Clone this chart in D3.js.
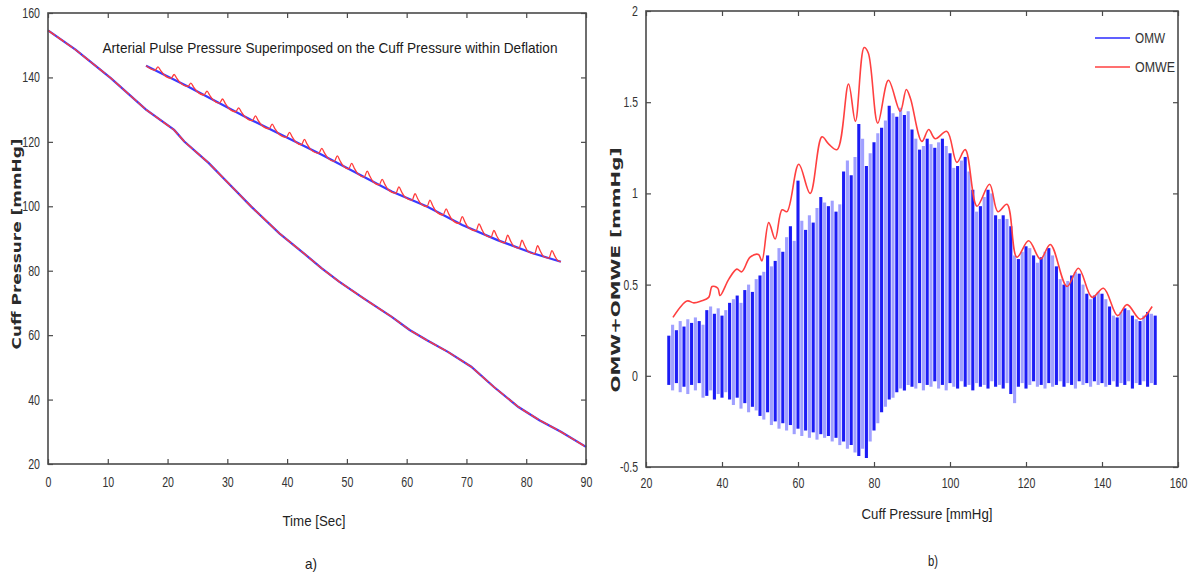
<!DOCTYPE html>
<html><head><meta charset="utf-8">
<script src="https://cdn.jsdelivr.net/npm/d3@7"></script>
<style>
html,body{margin:0;padding:0;background:#fff;}
svg{display:block;}
</style></head>
<body>
<svg id="chart" width="1191" height="573"></svg>
<script>
// ---------- Data: panel a) ----------
const mainTime = [0, 4.6, 10.5, 16.4, 21.1, 22.8, 26.9, 29.9, 34, 38.7, 42.8, 45.8, 48.7, 52.8, 57.5, 60.5, 63.4, 66.9, 70.8, 74.6, 78.7, 82.2, 85.8, 90];
const mainPressure = [154.6, 148.6, 139.8, 130, 123.7, 120.1, 113.4, 107.7, 99.9, 91.6, 85.4, 80.7, 76.6, 71.4, 65.7, 61.6, 58.4, 54.8, 50.2, 43.9, 37.7, 33.6, 30, 25.3];
const insetTime = [16.4, 23.4, 34, 45.8, 57.5, 63.4, 69.3, 75.2, 81.1, 85.8];
const insetPressure = [143.6, 137.2, 126.8, 116, 104.6, 99.9, 94.2, 89.5, 85.4, 82.8];
const pulseTime = [18.4, 21.1, 23.9, 26.6, 29.2, 31.9, 34.7, 37.5, 40.4, 42.9, 45.8, 48.4, 50.8, 53.4, 55.9, 58.7, 61.4, 63.9, 66.6, 69.3, 72.1, 74.6, 76.9, 79.3, 81.9, 84.3];
const pulseAmp = [1.5, 1.6, 1.5, 1.7, 1.8, 1.7, 1.9, 1.9, 2.0, 2.1, 2.0, 2.2, 2.2, 2.3, 2.2, 2.4, 2.4, 2.5, 2.4, 2.6, 2.6, 2.5, 2.7, 2.8, 2.8, 2.6];
const aXTicks = [0, 10, 20, 30, 40, 50, 60, 70, 80, 90];
const aYTicks = [20, 40, 60, 80, 100, 120, 140, 160];

// ---------- Data: panel b) ----------
const omwCuff = [26,27,28,29,30,31,32,33,34,35,36,37,38,39,40,41,42,43,44,45,46,47,48,49,50,51,52,53,54,55,56,57,58,59,60,61,62,63,64,65,66,67,68,69,70,71,72,73,74,75,76,77,78,79,80,81,82,83,84,85,86,87,88,89,90,91,92,93,94,95,96,97,98,99,100,101,102,103,104,105,106,107,108,109,110,111,112,113,114,115,116,117,118,119,120,121,122,123,124,125,126,127,128,129,130,131,132,133,134,135,136,137,138,139,140,141,142,143,144,145,146,147,148,149,150,151,152,153,154];
const omwHigh = [0.22,0.28,0.25,0.30,0.27,0.31,0.29,0.32,0.30,0.28,
 0.36,0.38,0.34,0.37,0.33,0.36,0.40,
 0.42,0.44,0.40,0.47,0.50,0.46,0.53,0.55,
 0.57,0.66,0.60,0.63,0.70,0.68,
 0.76,0.82,0.74,1.07,
 0.85,0.80,0.88,0.84,0.92,0.98,0.95,
 0.93,0.96,0.90,0.94,1.12,1.18,1.10,
 1.20,1.38,1.30,1.15,
 1.22,1.28,1.33,1.36,
 1.40,1.48,1.44,1.42,1.47,1.43,1.45,1.35,
 1.30,1.24,1.26,1.30,1.27,1.25,1.28,1.30,1.26,1.22,
 1.14,1.15,1.18,1.20,1.12,1.02,0.90,0.93,
 0.98,1.02,1.00,0.88,
 0.86,0.88,0.86,0.82,0.66,
 0.64,0.68,0.71,0.70,0.66,0.62,0.65,
 0.68,0.70,0.66,0.60,0.53,0.50,
 0.52,0.55,0.57,0.56,0.50,0.45,
 0.42,0.44,0.46,0.45,0.42,0.38,
 0.33,0.32,0.35,0.37,0.36,0.33,0.31,0.30,0.33,0.35,0.34,0.33];
const omwLow = [-0.05,-0.08,-0.04,-0.09,-0.06,-0.10,-0.05,-0.08,-0.04,-0.12,
 -0.11,-0.08,-0.13,-0.10,-0.12,-0.09,-0.13,
 -0.16,-0.12,-0.18,-0.15,-0.20,-0.17,-0.19,-0.22,
 -0.24,-0.20,-0.27,-0.25,-0.29,-0.26,
 -0.30,-0.27,-0.32,-0.29,
 -0.33,-0.30,-0.34,-0.31,-0.35,-0.32,-0.34,
 -0.33,-0.36,-0.34,-0.38,-0.36,-0.40,-0.38,
 -0.42,-0.44,-0.40,-0.45,
 -0.36,-0.30,-0.26,-0.20,
 -0.17,-0.13,-0.12,-0.09,-0.07,-0.08,-0.05,-0.06,
 -0.07,-0.04,-0.08,-0.05,-0.06,-0.03,-0.07,-0.05,-0.08,-0.04,-0.06,-0.07,-0.03,-0.06,-0.05,-0.08,-0.04,-0.06,-0.05,-0.07,-0.03,-0.06,
 -0.05,-0.07,-0.04,-0.10,-0.15,
 -0.06,-0.04,-0.07,-0.05,-0.03,-0.06,-0.05,-0.07,-0.04,-0.06,-0.05,-0.03,-0.06,-0.04,-0.05,-0.07,-0.03,-0.05,-0.04,-0.06,-0.03,-0.05,-0.04,-0.06,-0.05,-0.03,-0.06,-0.04,-0.05,-0.03,-0.07,-0.04,-0.05,-0.03,-0.06,-0.04,-0.05];
const omweCuff = [27.1,30.8,32.6,34.5,36.5,37.4,38.9,39.5,41.8,43.9,45.2,47.4,49.6,50.5,52.3,54.0,55.8,57.1,60.2,63.2,66.3,68.1,70.3,73.3,75.1,77.4,78.5,81.0,83.8,86.9,88.5,89.6,92.6,94.4,96.1,99.2,101.8,104.0,107.1,110.4,112.6,115.0,117.6,120.7,123.8,126.4,130.8,133.8,137.4,140.4,144.1,146.6,150.1,153.2];
const omweValue = [0.32,0.41,0.40,0.41,0.43,0.49,0.48,0.44,0.53,0.585,0.57,0.65,0.665,0.63,0.84,0.75,0.91,0.90,1.16,1.00,1.31,1.27,1.24,1.60,1.395,1.80,1.77,1.385,1.62,1.45,1.57,1.52,1.285,1.35,1.30,1.34,1.17,1.24,0.93,1.05,0.90,0.94,0.65,0.74,0.64,0.72,0.49,0.59,0.43,0.48,0.33,0.39,0.31,0.38];
const bXTicks = [20, 40, 60, 80, 100, 120, 140, 160];
const bYTicks = [-0.5, 0, 0.5, 1, 1.5, 2];
const legendNames = ["OMW", "OMWE"];

// ---------- Drawing ----------
const svg = d3.select("#chart");
const NARROW = "'Liberation Sans Narrow','Arial Narrow','Liberation Sans',Arial,sans-serif";
const FRAME = "#4a4a4a";
const TXT = "#333";

function narrowWidth(s) {
  let w = 0;
  for (const c of s) w += (c === "." ? 2.6 : c === "-" ? 3.6 : 5.9);
  return w;
}
function styleTicks(g) {
  g.select(".domain").remove();
  g.selectAll(".tick line").attr("stroke", FRAME).attr("stroke-width", 1.2);
  g.selectAll(".tick text")
    .attr("fill", TXT).attr("font-family", NARROW).attr("font-size", 14)
    .attr("textLength", function(){ return narrowWidth(this.textContent); })
    .attr("lengthAdjust", "spacingAndGlyphs");
}
function frameAxes(x, y, xt, yt, padX, padY) {
  const [x0, x1] = x.range(), [y0, y1] = y.range();
  const fmt = d => String(d);
  svg.append("g").attr("transform", `translate(0,${y0})`)
    .call(d3.axisBottom(x).tickValues(xt).tickFormat(fmt).tickSizeInner(-5).tickSizeOuter(0).tickPadding(padX))
    .call(styleTicks);
  svg.append("g").attr("transform", `translate(0,${y1})`)
    .call(d3.axisTop(x).tickValues(xt).tickFormat("").tickSizeInner(-5).tickSizeOuter(0))
    .call(styleTicks);
  svg.append("g").attr("transform", `translate(${x0},0)`)
    .call(d3.axisLeft(y).tickValues(yt).tickFormat(fmt).tickSizeInner(-5).tickSizeOuter(0).tickPadding(padY))
    .call(styleTicks);
  svg.append("g").attr("transform", `translate(${x1},0)`)
    .call(d3.axisRight(y).tickValues(yt).tickFormat("").tickSizeInner(-5).tickSizeOuter(0))
    .call(styleTicks);
  svg.append("rect").attr("x", x0).attr("y", y1).attr("width", x1 - x0).attr("height", y0 - y1)
    .attr("fill", "none").attr("stroke", FRAME).attr("stroke-width", 1.6);
}
function label(x, y, text, opts) {
  const t = svg.append("text").attr("x", x).attr("y", y).text(text)
    .attr("text-anchor", "middle").attr("dominant-baseline", "central")
    .attr("fill", opts.fill || "#222")
    .attr("font-family", opts.family || NARROW)
    .attr("font-size", opts.size || 15)
    .attr("font-weight", opts.weight || "normal");
  if (opts.len) t.attr("textLength", opts.len).attr("lengthAdjust", "spacingAndGlyphs");
  if (opts.rot) t.attr("transform", `rotate(${opts.rot},${x},${y})`);
  return t;
}

// ----- Panel a -----
const xa = d3.scaleLinear().domain([0, 90]).range([48, 586]);
const ya = d3.scaleLinear().domain([20, 160]).range([464, 13]);
const lineA = d3.line().x(d => xa(d[0])).y(d => ya(d[1]));

const mainPts = mainTime.map((t, i) => [t, mainPressure[i]]);
svg.append("path").attr("d", lineA(mainPts)).attr("fill", "none").attr("stroke", "#3a3aff").attr("stroke-width", 2.2);
svg.append("path").attr("d", lineA(mainPts)).attr("fill", "none").attr("stroke", "#ff3b3b").attr("stroke-width", 1.4).attr("stroke-dasharray", "9,1.5");

const insetPts = insetTime.map((t, i) => [t, insetPressure[i]]);
svg.append("path").attr("d", lineA(insetPts)).attr("fill", "none").attr("stroke", "#3a3aff").attr("stroke-width", 2.2);

const baseAt = d3.scaleLinear().domain(insetTime).range(insetPressure);
const redPts = [[insetTime[0], baseAt(insetTime[0])]];
pulseTime.forEach((t, i) => {
  const a = pulseAmp[i];
  redPts.push([t - 0.5, baseAt(t - 0.5)], [t, baseAt(t) + a], [t + 0.45, baseAt(t + 0.45) + a * 0.5], [t + 1.0, baseAt(t + 1.0)]);
});
redPts.push([insetTime[insetTime.length - 1], baseAt(insetTime[insetTime.length - 1])]);
svg.append("path").attr("d", lineA.curve(d3.curveMonotoneX)(redPts)).attr("fill", "none").attr("stroke", "#ff3b3b").attr("stroke-width", 1.3);
lineA.curve(d3.curveLinear);

frameAxes(xa, ya, aXTicks, aYTicks, 13, 8);

label(330, 47, "Arterial Pulse Pressure Superimposed on the Cuff Pressure within Deflation", {size: 15, len: 455, fill: "#1a1a1a"});
label(314, 520, "Time [Sec]", {size: 15, len: 63});
label(311, 563, "a)", {size: 15, len: 12});
label(16, 244, "Cuff Pressure [mmHg]", {size: 13, weight: "bold", family: "'DejaVu Sans',Verdana,sans-serif", len: 211, rot: -90, fill: "#2a2a2a"});

// ----- Panel b -----
const xb = d3.scaleLinear().domain([20, 160]).range([646, 1178]);
const yb = d3.scaleLinear().domain([-0.5, 2]).range([467, 11]);

const omwColors = ["#1c1cf5", "#a0a0ff"];
svg.append("g").selectAll("line").data(omwCuff).join("line")
  .attr("x1", d => xb(d)).attr("x2", d => xb(d))
  .attr("y1", (d, i) => yb(omwLow[i])).attr("y2", (d, i) => yb(omwHigh[i]))
  .attr("stroke", (d, i) => omwColors[i % 2]).attr("stroke-width", 3.1);

const omwePts = omweCuff.map((c, i) => [c, omweValue[i]]);
svg.append("path")
  .attr("d", d3.line().x(d => xb(d[0])).y(d => yb(d[1])).curve(d3.curveCatmullRom.alpha(0.5))(omwePts))
  .attr("fill", "none").attr("stroke", "#ff4040").attr("stroke-width", 1.6);

frameAxes(xb, yb, bXTicks, bYTicks, 11, 8);

label(927, 513, "Cuff Pressure [mmHg]", {size: 15, len: 131});
label(933, 560, "b)", {size: 15, len: 10});
label(615, 270, "OMW+OMWE  [mmHg]", {size: 13, weight: "bold", family: "'DejaVu Sans',Verdana,sans-serif", len: 245, rot: -90, fill: "#2a2a2a"});

// legend
const legColors = ["#2b2bff", "#ff4040"];
legendNames.forEach((n, i) => {
  const yy = 38 + i * 29;
  svg.append("line").attr("x1", 1095).attr("x2", 1130).attr("y1", yy).attr("y2", yy)
    .attr("stroke", legColors[i]).attr("stroke-width", 1.6);
  svg.append("text").attr("x", 1135).attr("y", yy).attr("dominant-baseline", "central")
    .attr("font-family", NARROW).attr("font-size", 14).attr("fill", TXT)
    .attr("textLength", n.length === 3 ? 30 : 40).attr("lengthAdjust", "spacingAndGlyphs")
    .text(n);
});
</script>
</body></html>
